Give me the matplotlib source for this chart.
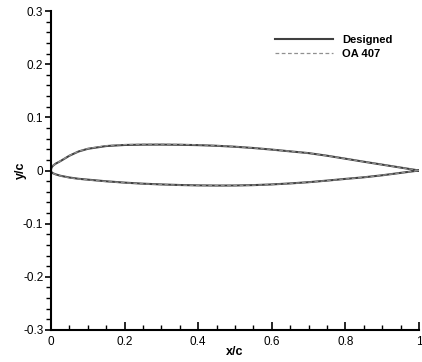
import matplotlib
matplotlib.use("Agg")
import matplotlib.pyplot as plt
from matplotlib.ticker import MultipleLocator

plt.rcParams['font.family'] = ['Liberation Sans', 'DejaVu Sans']

# Designed airfoil (upper / lower surfaces)
x_pts = [0.0, 0.0003, 0.001, 0.0025, 0.005, 0.0125, 0.025, 0.05, 0.075, 0.1,
         0.15, 0.2, 0.25, 0.3, 0.35, 0.4, 0.45, 0.5, 0.55, 0.6, 0.65, 0.7,
         0.75, 0.8, 0.85, 0.9, 0.95, 1.0]
designed_upper = [0.0, 0.0025, 0.0044, 0.0066, 0.0088, 0.0128, 0.0174, 0.0278,
                  0.0358, 0.0408, 0.0460, 0.0480, 0.0486, 0.0487, 0.0484,
                  0.0477, 0.0465, 0.0447, 0.0423, 0.0393, 0.0360, 0.0327,
                  0.0278, 0.0222, 0.0165, 0.0110, 0.0055, 0.0]
designed_lower = [0.0, -0.0016, -0.0027, -0.0039, -0.0051, -0.0072, -0.0098,
                  -0.0132, -0.0156, -0.0172, -0.0203, -0.0228, -0.0248,
                  -0.0262, -0.0273, -0.0280, -0.0283, -0.0282, -0.0275,
                  -0.0262, -0.0243, -0.0220, -0.0190, -0.0158, -0.0128,
                  -0.0090, -0.0045, 0.0]

# OA 407 reference airfoil
oa_upper = [0.0, 0.0025, 0.0044, 0.0066, 0.0088, 0.0129, 0.0176, 0.0281,
            0.0361, 0.0412, 0.0466, 0.0487, 0.0493, 0.0494, 0.0490,
            0.0482, 0.0468, 0.0449, 0.0424, 0.0394, 0.0361, 0.0327,
            0.0278, 0.0222, 0.0165, 0.0110, 0.0055, 0.0]
oa_lower = [0.0, -0.0016, -0.0027, -0.0040, -0.0052, -0.0074, -0.0100,
            -0.0135, -0.0159, -0.0175, -0.0206, -0.0230, -0.0250,
            -0.0264, -0.0275, -0.0281, -0.0284, -0.0283, -0.0276,
            -0.0263, -0.0244, -0.0221, -0.0191, -0.0159, -0.0128,
            -0.0090, -0.0045, 0.0]

x_ticks = [0, 0.2, 0.4, 0.6, 0.8, 1]
x_ticklabels = ['0', '0.2', '0.4', '0.6', '0.8', '1']
y_ticks = [-0.3, -0.2, -0.1, 0, 0.1, 0.2, 0.3]
y_ticklabels = ['-0.3', '-0.2', '-0.1', '0', '0.1', '0.2', '0.3']

fig = plt.figure(figsize=(4.22, 3.62), dpi=100)
ax = fig.add_axes([51/422, 1-330/362, 368/422, 319/362])

xs_closed = x_pts[::-1] + x_pts[1:]
d_closed = designed_upper[::-1] + designed_lower[1:]
o_closed = oa_upper[::-1] + oa_lower[1:]

ax.plot(xs_closed, d_closed, color='#404040', lw=1.5, label='Designed',
        solid_joinstyle='round')
ax.plot(xs_closed, o_closed, color='#909090', lw=0.9, ls=(0, (3, 2)),
        label='OA 407')

ax.set_xlim(0, 1)
ax.set_ylim(-0.3, 0.3)
ax.set_xticks(x_ticks)
ax.set_xticklabels(x_ticklabels)
ax.set_yticks(y_ticks)
ax.set_yticklabels(y_ticklabels)
ax.xaxis.set_minor_locator(MultipleLocator(0.05))
ax.yaxis.set_minor_locator(MultipleLocator(0.02))

for s in ['top', 'right']:
    ax.spines[s].set_visible(False)
for s in ['left', 'bottom']:
    ax.spines[s].set_linewidth(1.5)
    ax.spines[s].set_color('black')

ax.tick_params(axis='x', which='major', direction='in', length=6, width=1.2,
               labelsize=8.5, pad=4)
ax.tick_params(axis='x', which='minor', direction='in', length=3.6, width=1.0)
ax.tick_params(axis='y', which='major', direction='out', length=4.5, width=1.2,
               labelsize=8.5, pad=1)
ax.tick_params(axis='y', which='minor', direction='out', length=3.5, width=1.0)

ax.set_xlabel('x/c', fontsize=9, fontweight='bold', labelpad=-1)
ax.set_ylabel('y/c', fontsize=9, fontweight='bold', labelpad=-3)

leg = ax.legend(loc='upper right', bbox_to_anchor=(0.955, 0.955), frameon=False,
                prop={'size': 8, 'weight': 'bold'}, handlelength=5.2,
                handletextpad=0.8, labelspacing=0.35)

fig.savefig('out.png', dpi=100)
